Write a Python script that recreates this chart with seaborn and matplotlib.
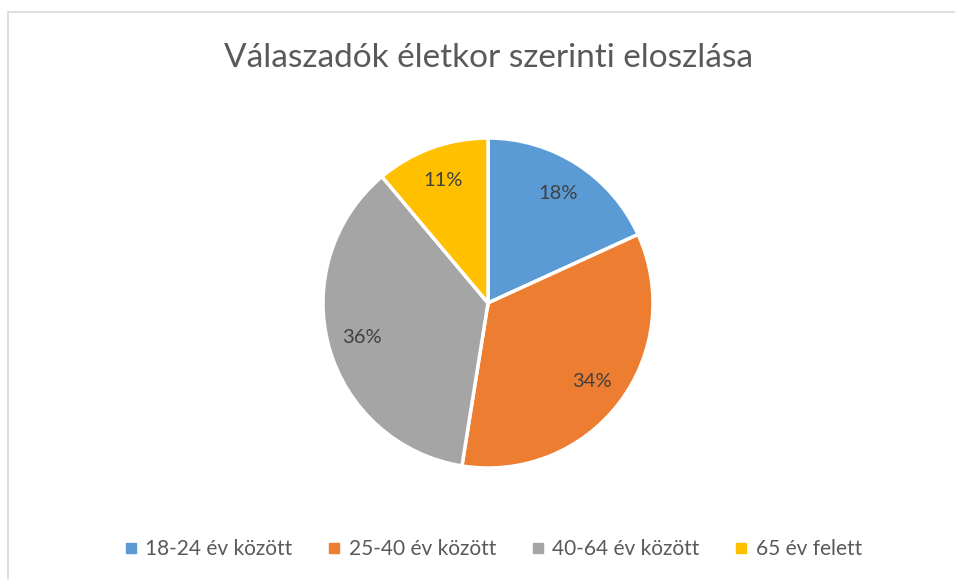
import matplotlib
matplotlib.use("Agg")
import matplotlib.pyplot as plt
from matplotlib.lines import Line2D
from matplotlib.patches import Rectangle
import seaborn as sns

# Data
categories = ["18-24 év között", "25-40 év között", "40-64 év között", "65 év felett"]
shares = [18, 34, 36, 11]
colors = ["#5B9BD5", "#ED7D31", "#A5A5A5", "#FFC000"]
title = "Válaszadók életkor szerinti eloszlása"

sns.set_theme(style="white")
plt.rcParams["font.family"] = ["Lato", "DejaVu Sans"]

W, H = 955, 580
fig = plt.figure(figsize=(W / 100, H / 100), dpi=100)
fig.patch.set_facecolor("white")

# Pie axes: center (488, 303) px, radius 165 px
cx, cy, r = 488, 303, 165
ax = fig.add_axes([(cx - r) / W, 1 - (cy + r) / H, 2 * r / W, 2 * r / H])

wedges, texts = ax.pie(
    shares,
    colors=colors,
    startangle=90,
    counterclock=False,
    labels=[f"{v}%" for v in shares],
    labeldistance=0.79,
    wedgeprops=dict(edgecolor="white", linewidth=2.5),
    textprops=dict(color="#404040", fontsize=14.5, ha="center", va="center"),
)
ax.set_xlim(-1, 1)
ax.set_ylim(-1, 1)
ax.set_aspect("equal")
ax.axis("off")

fig.text(cx / W, 1 - 58 / H, title, ha="center", va="center",
         fontsize=24, color="#595959")

# Legend along the bottom
handles = [Line2D([0], [0], marker="s", linestyle="none", markersize=7,
                  markerfacecolor=c, markeredgecolor=c) for c in colors]
fig.legend(handles, categories, loc="center", bbox_to_anchor=(0.516, 1 - 549 / H),
           ncol=4, frameon=False, fontsize=15, labelcolor="#595959",
           handlelength=0.7, handletextpad=0.35, columnspacing=1.65)

# Chart area border (light grey, cut off at right and bottom)
fig.patches.append(Rectangle((8 / W, -0.05), 1.0, 1 - 11.5 / H + 0.05,
                             transform=fig.transFigure, fill=False,
                             edgecolor="#D9D9D9", linewidth=1.2))

fig.savefig("out.png", dpi=100, facecolor="white")
